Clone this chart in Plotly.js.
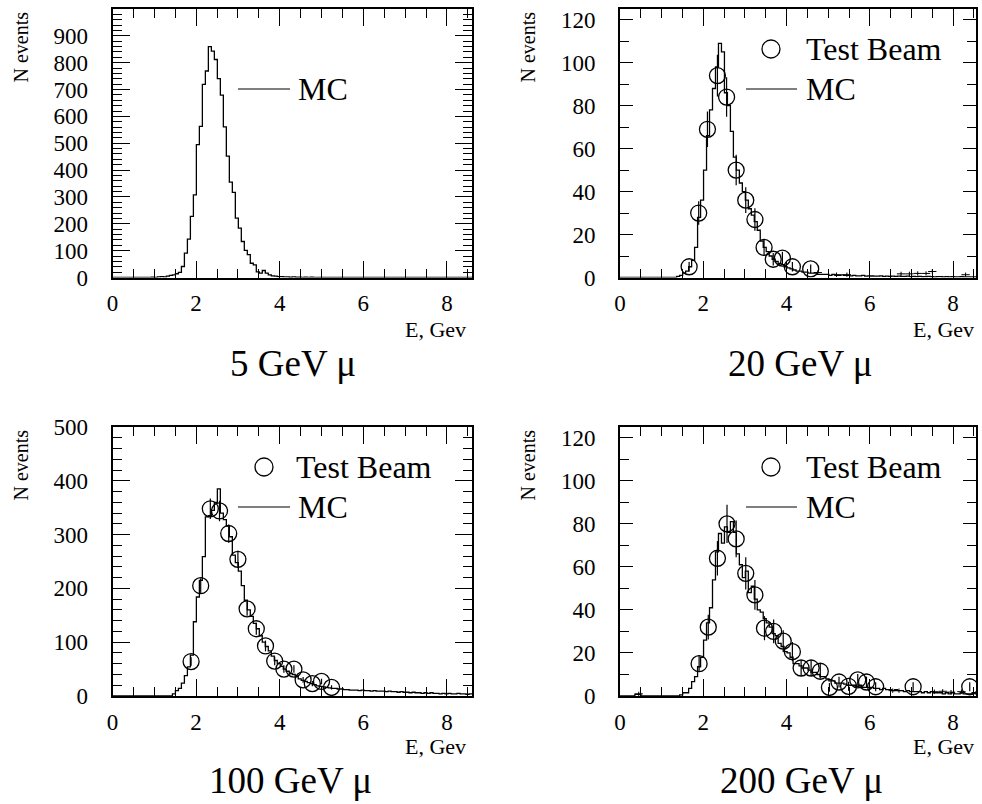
<!DOCTYPE html>
<html><head><meta charset="utf-8">
<script src="https://cdn.plot.ly/plotly-3.0.1.min.js"></script>
<style>html,body{margin:0;padding:0;background:#fff}#plot{width:982px;height:804px}</style>
</head><body><div id="plot"></div>
<script>
// ---------------- DATA ----------------
const binLow = 0, binWidth = 8.6 / 120;   // MC histogram binning (120 bins)

const panelTitles = ["5 GeV \u03bc", "20 GeV \u03bc", "100 GeV \u03bc", "200 GeV \u03bc"];
const xTickVals = [0, 2, 4, 6, 8];
const yTicks5   = [0, 100, 200, 300, 400, 500, 600, 700, 800, 900];
const yTicks20  = [0, 20, 40, 60, 80, 100, 120];
const yTicks100 = [0, 100, 200, 300, 400, 500];
const yTicks200 = [0, 20, 40, 60, 80, 100, 120];

// MC histograms (bin contents, 120 bins)
const mc5 = [0,0,0,0,0,0,0,0,0,0, 0,0,0,1,0,2,3,2,5,8,
  10,14,19,41,91,143,228,308,495,563, 719,769,860,843,812,741,679,561,452,355,
  317,221,184,134,101,85,53,47,21,16, 26,16,10,6,5,3,3,2,2,1,
  2,1,1,0,1,0,1,0,0,0, 0,0,0,0,0,0,0,0,0,0,
  0,0,0,0,0,0,0,0,0,0, 0,0,0,0,0,0,0,0,0,0,
  0,0,0,0,0,0,0,0,0,0, 0,0,0,0,0,0,0,0,0,0];
const mc20 = [0,0,0,0,0,0,0,0,0,0, 0,0,0,0,0,0,0,0,0,0.5,
  1,2,3,5,8,14,28,36,50,66, 78,88,98,109,105,86,80,68,56,50,
  44,40,36,32,29,26,22,17,14,12, 10,8.5,7.5,6.5,6,5,4.5,4,3.5,3,
  3,2.5,2.5,2,2,2,1.5,1.5,1.5,1.5, 1,1.5,1,1,1.2,1,1,0.8,1,0.8,
  0.8,1,0.6,0.8,0.7,0.6,0.6,0.8,0.5,0.6, 0.5,0.6,0.5,0.6,0.5,0.5,0.6,0.4,0.5,0.4,
  0.5,0.4,0.4,0.5,0.4,0.3,0.4,0.4,0.3,0.4, 0.3,0.4,0.3,0.3,0.4,0.3,0.3,0.3,0.3,0.3];
const mc100 = [0,0,0,0,0,0,0,0,0,0, 0,0,0,0,0,0,0,0,0,0,
  4,10,14,24,38,54,76,138,184,215, 259,333,335,345,360,385,340,328,316,296,
  262,248,232,205,178,160,148,135,125,112, 100,92,84,74,66,60,55,50,46,42,
  40,36,32,29,27,25,23,21,19,18, 17,16,15,14,14,13,13,12,12,11,
  11,11,10,11,10,10,9,10,9,9, 9,8,9,8,8,7,8,7,7,6,
  7,6,6,5,6,5,6,5,5,4, 5,4,5,4,4,5,4,4,3,4];
const mc200 = [0,0,0,0,0,0.8,0.8,0,0,0, 0,0,0,0,0,0,0,0,0,0,
  0.5,1.5,1.5,3.5,6.7,9,13.6,18,26,34, 41,54,67,75.5,71,78.6,76,81,76,66,
  61,55,58,48,51,45,40,39,36,34, 32,29,28,24.5,23,20.6,20,18,15,15,
  14,13,13,12,11,11,10,9,9,8, 7,7,6,6,6,5.5,5,5,5,4.5,
  5,4,4,4,4,3.5,3.5,3,3.5,3, 3,2.5,3,2.5,2.5,2,2.5,2,2,2,
  2,1.5,2,1.5,2,1.5,1.5,1.5,1,1.5, 1,1.5,1,1,1.5,1,1,1,1.5,1];

// Test-beam data points
const tb20x   = [1.66,1.89,2.10,2.34,2.56,2.79,3.02,3.24,3.46,3.68,3.90,4.14,4.58];
const tb20y   = [5,30,69,94,84,50,36,27,14,8.5,9,5,4];
const tb20err = [2.2,5.5,8.3,9.7,9.2,7.1,6,5.2,3.7,2.9,3,2.2,2];
const tb100x   = [1.88,2.11,2.34,2.56,2.78,3.00,3.22,3.44,3.66,3.88,4.10,4.34,4.56,4.78,5.00,5.24];
const tb100y   = [64,205,348,344,302,254,162,125,93,65,50,50,30,23,27,16];
const tb100err = [8,14,19,19,17,16,13,11,10,8,7,7,5.5,4.8,5.2,4];
const tb200x   = [1.90,2.12,2.34,2.57,2.79,3.02,3.24,3.47,3.69,3.92,4.14,4.35,4.59,4.81,5.03,5.26,5.49,5.71,5.92,6.14,7.04,8.40];
const tb200y   = [15,32,64,80,73,57,47,31.5,30,25.5,20.6,13,13,11.5,4,6.5,4.5,7.5,6.5,4.3,4.3,4.3];
const tb200err = [3.9,5.7,8,8.9,8.5,7.5,6.9,5.6,5.5,5,4.5,3.6,3.6,3.4,2,2.5,2.1,2.7,2.5,2.1,2.1,2.1];

// sparse MC error crosses in the tails
const cr20x = [4.75,5.2,5.45,6.75,6.95,7.15,7.35,7.5,8.3];
const cr20y = [2.3,1.3,1.3,1.7,1.7,1.9,1.9,2.8,1.3];
const cr200x = [0.45,6.55,6.7,7.55,7.75,7.95,8.2];
const cr200y = [1,2.5,2.5,2,2.2,1.8,2];

// ---------------- BUILD ----------------
const W = 982, H = 804;
const px = X => X / W, py = Y => (H - Y) / H;
const FONT = 'Liberation Serif';

function histStep(vals){
  const xs = [], ys = [];
  for (let i = 0; i <= vals.length; i++){
    xs.push(binLow + i * binWidth);
    ys.push(i < vals.length ? vals[i] : vals[vals.length - 1]);
  }
  return {xs, ys};
}
function mcTrace(vals, xa, ya){
  const h = histStep(vals);
  return {x: h.xs, y: h.ys, xaxis: xa, yaxis: ya, type: 'scatter', mode: 'lines',
    line: {shape: 'hv', color: '#000', width: 1.3}, name: 'MC', showlegend: false, hoverinfo: 'skip'};
}
function tbTrace(x, y, e, xa, ya){
  return {x, y, xaxis: xa, yaxis: ya, type: 'scatter', mode: 'markers', name: 'Test Beam',
    marker: {symbol: 'circle-open', size: 16, color: '#000', line: {width: 1.3, color: '#000'}},
    error_y: {type: 'data', array: e, visible: true, color: '#000', thickness: 1.2, width: 0},
    showlegend: false};
}
function crossTrace(x, y, xa, ya){
  return {x, y, xaxis: xa, yaxis: ya, type: 'scatter', mode: 'markers',
    marker: {size: 1, color: '#000'},
    error_y: {type: 'constant', value: 1, color: '#000', thickness: 1, width: 0},
    error_x: {type: 'constant', value: 0.1, color: '#000', thickness: 1, width: 0},
    showlegend: false, hoverinfo: 'skip'};
}

const data = [
  mcTrace(mc5, 'x', 'y'),
  mcTrace(mc20, 'x2', 'y2'), tbTrace(tb20x, tb20y, tb20err, 'x2', 'y2'), crossTrace(cr20x, cr20y, 'x2', 'y2'),
  mcTrace(mc100, 'x3', 'y3'), tbTrace(tb100x, tb100y, tb100err, 'x3', 'y3'),
  mcTrace(mc200, 'x4', 'y4'), tbTrace(tb200x, tb200y, tb200err, 'x4', 'y4'), crossTrace(cr200x, cr200y, 'x4', 'y4')
];

function xAxis(dom, anchor, rmax){
  return {domain: dom, anchor: anchor, range: [0, rmax], tickmode: 'array', tickvals: xTickVals,
    ticks: 'inside', ticklen: 17, tickwidth: 1, tickcolor: '#000',
    showline: true, linewidth: 2, linecolor: '#000', mirror: 'ticks',
    showgrid: false, zeroline: false, ticklabelstandoff: 4,
    tickfont: {family: FONT, size: 23, color: '#000'},
    minor: {dtick: 0.5, tick0: 0, ticks: 'inside', ticklen: 9, tickwidth: 1, tickcolor: '#000', showgrid: false}};
}
function yAxis(dom, anchor, rmax, tv, mdt, tl){
  return {domain: dom, anchor: anchor, range: [0, rmax], tickmode: 'array', tickvals: tv,
    ticks: 'inside', ticklen: tl, tickwidth: 1, tickcolor: '#000',
    showline: true, linewidth: 2, linecolor: '#000', mirror: 'ticks',
    showgrid: false, zeroline: false, ticklabelstandoff: 18,
    tickfont: {family: FONT, size: 23, color: '#000'},
    minor: {dtick: mdt, tick0: 0, ticks: 'inside', ticklen: 9, tickwidth: 1, tickcolor: '#000', showgrid: false}};
}

const xL = [px(112.5), px(472)], xR = [px(620), px(976)];
const yT = [py(277.5), py(9)], yB = [py(696), py(427)];

const annotations = [];
const shapes = [];
function ann(text, X, Y, size, xanchor, yanchor, angle){
  annotations.push({text, xref: 'paper', yref: 'paper', x: px(X), y: py(Y), showarrow: false,
    xanchor: xanchor, yanchor: yanchor, textangle: angle || 0,
    font: {family: FONT, size: size, color: '#000'}});
}
// axis titles
[[20, 10], [527, 10], [20, 428], [527, 428]].forEach(p => ann('N events', p[0], p[1], 20, 'center', 'top', -90));
[[468, 329], [976, 329], [468, 746], [976, 746]].forEach(p => ann('E, Gev', p[0], p[1], 22, 'right', 'middle'));
// panel titles
ann(panelTitles[0], 293, 363, 37, 'center', 'middle');
ann(panelTitles[1], 800, 363, 37, 'center', 'middle');
ann(panelTitles[2], 290, 780, 37, 'center', 'middle');
ann(panelTitles[3], 801, 780, 37, 'center', 'middle');

// legends (drawn manually, ROOT style)
function legLine(x0, x1, Y, label, tx){
  shapes.push({type: 'line', xref: 'paper', yref: 'paper', x0: px(x0), x1: px(x1), y0: py(Y), y1: py(Y),
    line: {color: '#000', width: 1.2}});
  ann(label, tx, Y, 32, 'left', 'middle');
}
function legCircle(X, Y, label, tx){
  shapes.push({type: 'circle', xref: 'paper', yref: 'paper', xsizemode: 'pixel', ysizemode: 'pixel',
    xanchor: px(X), yanchor: py(Y), x0: -9, x1: 9, y0: -9, y1: 9, line: {color: '#000', width: 1.3}});
  ann(label, tx, Y, 32, 'left', 'middle');
}
legLine(238, 290, 89, 'MC', 296);
legCircle(771, 49, 'Test Beam', 804); legLine(746, 797, 89, 'MC', 804);
legCircle(264, 467, 'Test Beam', 294); legLine(238, 290, 507, 'MC', 296);
legCircle(771, 467, 'Test Beam', 804); legLine(746, 797, 507, 'MC', 804);

const layout = {
  width: W, height: H, margin: {l: 0, r: 0, t: 0, b: 0},
  paper_bgcolor: '#fff', plot_bgcolor: '#fff', showlegend: false,
  xaxis:  xAxis(xL, 'y', 8.6),  yaxis:  yAxis(yT, 'x', 1000, yTicks5, 20, 17),
  xaxis2: xAxis(xR, 'y2', 8.55), yaxis2: yAxis(yT, 'x2', 125, yTicks20, 10, 13),
  xaxis3: xAxis(xL, 'y3', 8.6), yaxis3: yAxis(yB, 'x3', 500, yTicks100, 20, 17),
  xaxis4: xAxis(xR, 'y4', 8.55), yaxis4: yAxis(yB, 'x4', 125, yTicks200, 10, 13),
  annotations, shapes
};
Plotly.newPlot('plot', data, layout, {staticPlot: true, displayModeBar: false});
</script></body></html>
